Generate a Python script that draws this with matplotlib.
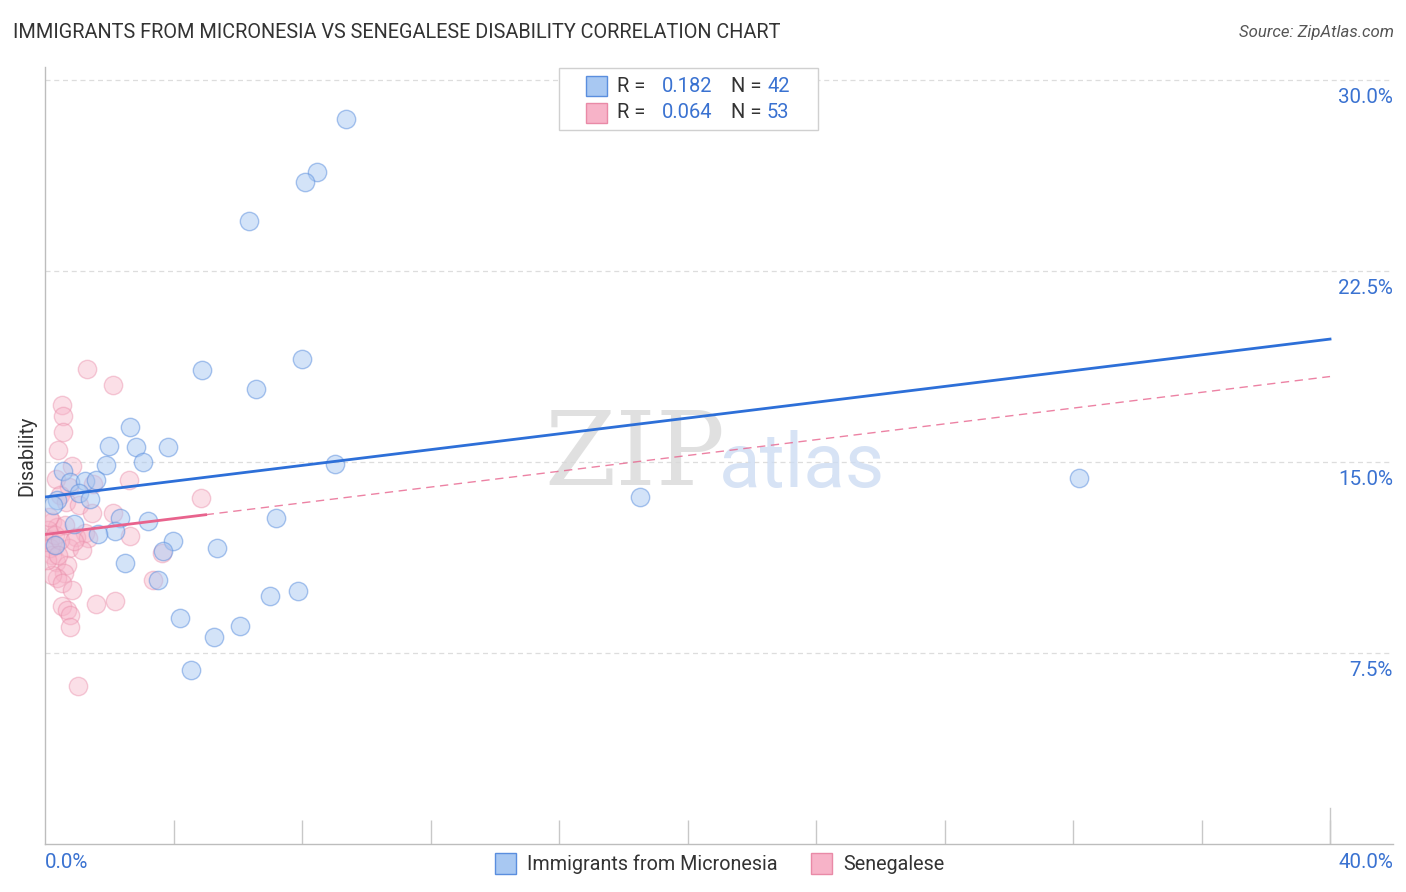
import matplotlib
matplotlib.use("Agg")
import matplotlib.pyplot as plt
import matplotlib.transforms as mtransforms
from matplotlib.patches import Rectangle
import numpy as np

# ---------------- data ----------------
title = "IMMIGRANTS FROM MICRONESIA VS SENEGALESE DISABILITY CORRELATION CHART"
source = "Source: ZipAtlas.com"
series_names = ["Immigrants from Micronesia", "Senegalese"]
r_values = ["0.182", "0.064"]
n_values = ["42", "53"]

micronesia_x = [9.37, 8.47, 8.09, 6.35, 8.00, 4.89, 6.57, 2.65, 1.99, 2.83, 3.83, 3.05, 1.90, 0.56,
                9.03, 32.19, 0.78, 1.25, 1.59, 1.06, 1.40, 0.37, 18.52, 0.25, 7.19, 2.33, 3.21, 0.90,
                2.18, 1.65, 3.98, 0.31, 3.67, 5.35, 2.49, 3.52, 7.88, 7.00, 4.20, 6.07, 5.26, 4.54]
micronesia_y = [28.47, 26.38, 25.99, 24.46, 19.04, 18.61, 17.86, 16.37, 15.63, 15.59, 15.59, 15.00, 14.88, 14.64,
                14.92, 14.37, 14.21, 14.25, 14.29, 13.78, 13.55, 13.51, 13.62, 13.31, 12.80, 12.80, 12.68, 12.56,
                12.29, 12.17, 11.90, 11.74, 11.50, 11.62, 11.03, 10.37, 9.93, 9.74, 8.87, 8.56, 8.13, 6.83]

senegalese_x = [1.31, 2.12, 0.53, 0.56, 0.56, 0.40, 0.84, 0.34, 1.49, 2.61, 0.75, 0.47, 4.86, 0.65,
                1.06, 1.46, 2.12, 0.22, 0.37, 1.25, 0.96, 2.65, 1.34, 0.16, 0.28, 0.75, 1.15, 3.64,
                0.22, 0.34, 0.68, 0.59, 0.37, 0.22, 0.53, 3.36, 0.53, 0.68, 0.78, 0.78, 1.59, 2.18,
                1.03, 0.09, 0.16, 0.31, 0.47, 0.06, 0.40, 0.90, 0.62, 0.12, 0.84]
senegalese_y = [18.65, 18.02, 17.24, 16.80, 16.18, 15.47, 14.84, 14.33, 14.13, 14.29, 14.02, 13.70, 13.58, 13.43,
                13.31, 13.00, 13.00, 12.64, 12.45, 12.21, 12.05, 12.09, 12.01, 11.94, 11.74, 11.62, 11.54, 11.43,
                11.35, 11.07, 10.95, 10.64, 10.44, 10.56, 10.25, 10.37, 9.34, 9.19, 8.99, 8.52, 9.42, 9.54,
                6.20, 12.33, 11.62, 12.13, 11.94, 11.15, 11.35, 11.90, 12.52, 12.84, 9.97]

# trend lines (intercept, slope)
micronesia_trend = (13.62, 0.155)
senegalese_trend = (12.15, 0.155)
senegalese_solid_end = 5.0

y_ticks = [7.5, 15.0, 22.5, 30.0]
y_tick_labels = ["7.5%", "15.0%", "22.5%", "30.0%"]
x_ticks = [4, 8, 12, 16, 20, 24, 28, 32, 36, 40]
x_end_tick = 40
x_left_label = "0.0%"
x_right_label = "40.0%"
y_label = "Disability"

# ---------------- style ----------------
W, H = 1406, 892
FONT = "Roboto"
blue_fill = "#a8c8f2"
blue_edge = "#5a8ede"
blue_line = "#2d6fd8"
pink_fill = "#f7b3c8"
pink_edge = "#e98aa7"
pink_line = "#e8638d"
label_blue = "#3a72d1"
text_dark = "#333333"

plt.rcParams['font.family'] = [FONT, 'DejaVu Sans']

fig = plt.figure(figsize=(W / 100, H / 100), dpi=100)


def fx(px):
    return px / W


def fy(py):
    return 1 - py / H


ax_l, ax_r, ax_t, ax_b = 45, 1393, 67, 844
ax = fig.add_axes([fx(ax_l), fy(ax_b), (ax_r - ax_l) / W, (ax_b - ax_t) / H])
ax.set_xlim(0, 41.96)
ax.set_ylim(0, 30.5)

for s in ["top", "right"]:
    ax.spines[s].set_visible(False)
for s in ["left", "bottom"]:
    ax.spines[s].set_color("#bdbdbd")
    ax.spines[s].set_linewidth(1.0)

ax.set_yticks([])
ax.set_xticks(x_ticks)
ax.set_xticklabels([])
ax.tick_params(axis="x", direction="in", length=17, color="#c8c8c8", width=1.0)
ax.axvline(x_end_tick, ymin=0, ymax=36 / (ax_b - ax_t), color="#c8c8c8", lw=1.0)

for yv in y_ticks:
    ax.axhline(yv, color="#dddddd", lw=0.9, ls=(0, (4, 3)), zorder=0)

# watermark
ax.text(0.4377, 0.499, "ZIP", transform=ax.transAxes, fontsize=74, family="DejaVu Serif",
        color="#d9d9d9", ha="center", va="center", zorder=0, alpha=0.8)
ax.text(0.5616, 0.486, "atlas", transform=ax.transAxes, fontsize=55, family=FONT,
        color="#cddcf3", ha="center", va="center", zorder=0, alpha=0.8)

# scatter
ms = 175
ax.scatter(senegalese_x, senegalese_y, s=ms, facecolor=pink_fill, edgecolor=pink_edge,
           linewidth=1.0, alpha=0.42, zorder=3)
ax.scatter(micronesia_x, micronesia_y, s=ms, facecolor=blue_fill, edgecolor=blue_edge,
           linewidth=1.0, alpha=0.5, zorder=4)

# trend lines
xx = np.array([0, 40])
ax.plot(xx, micronesia_trend[0] + micronesia_trend[1] * xx, color=blue_line, lw=2.0, zorder=5)
xs = np.array([0, senegalese_solid_end])
ax.plot(xs, senegalese_trend[0] + senegalese_trend[1] * xs, color=pink_line, lw=2.0, zorder=5)
xd = np.array([senegalese_solid_end, 40])
ax.plot(xd, senegalese_trend[0] + senegalese_trend[1] * xd, color=pink_line, lw=1.0,
        ls=(0, (6, 4)), alpha=0.8, zorder=5)

# y tick labels (right side, below grid lines)
off = mtransforms.offset_copy(ax.transData, fig=fig, x=0, y=-18, units="dots")
for yv, lab in zip(y_ticks, y_tick_labels):
    ax.text(41.96, yv, lab, transform=off, ha="right", va="center", fontsize=14.8,
            color=label_blue)

# x labels
fig.text(fx(45), fy(863), x_left_label, ha="left", va="center", fontsize=14.8, color=label_blue)
fig.text(fx(1393), fy(863), x_right_label, ha="right", va="center", fontsize=14.8, color=label_blue)

# y label
fig.text(fx(27), fy(456), y_label, rotation=90, ha="center", va="center", fontsize=14.3,
         color=text_dark)

# title and source
fig.text(fx(13), fy(33), title, ha="left", va="center", fontsize=14.3, color=text_dark)
fig.text(fx(1394), fy(33), source, ha="right", va="center", fontsize=12.1, color="#555555",
         style="italic")

# top legend box
fig.patches.append(Rectangle((fx(559), fy(130)), (818 - 559) / W, (130 - 68) / H,
                             transform=fig.transFigure, facecolor="white", edgecolor="#d0d0d0",
                             lw=1.0, zorder=10))
rows = [(86, blue_fill, blue_edge), (113, pink_fill, pink_edge)]
for (yc, fc, ec), rv, nv in zip(rows, r_values, n_values):
    fig.patches.append(Rectangle((fx(586), fy(yc + 10)), 21 / W, 20 / H, transform=fig.transFigure,
                                 facecolor=fc, edgecolor=ec, lw=1.0, zorder=11))
    fig.text(fx(617), fy(yc), "R =", ha="left", va="center", fontsize=14.5, color=text_dark, zorder=12)
    fig.text(fx(712), fy(yc), rv, ha="right", va="center", fontsize=14.5, color=label_blue, zorder=12)
    fig.text(fx(731), fy(yc), "N =", ha="left", va="center", fontsize=14.5, color=text_dark, zorder=12)
    fig.text(fx(767), fy(yc), nv, ha="left", va="center", fontsize=14.5, color=label_blue, zorder=12)

# bottom legend
bl = [(495, 527, blue_fill, blue_edge, series_names[0]), (811, 843, pink_fill, pink_edge, series_names[1])]
for sx, tx, fc, ec, name in bl:
    fig.patches.append(Rectangle((fx(sx), fy(874)), 21 / W, 21 / H, transform=fig.transFigure,
                                 facecolor=fc, edgecolor=ec, lw=1.0))
    fig.text(fx(tx), fy(864), name, ha="left", va="center", fontsize=14.2, color=text_dark)

fig.savefig("out.png", dpi=100, facecolor="white")
